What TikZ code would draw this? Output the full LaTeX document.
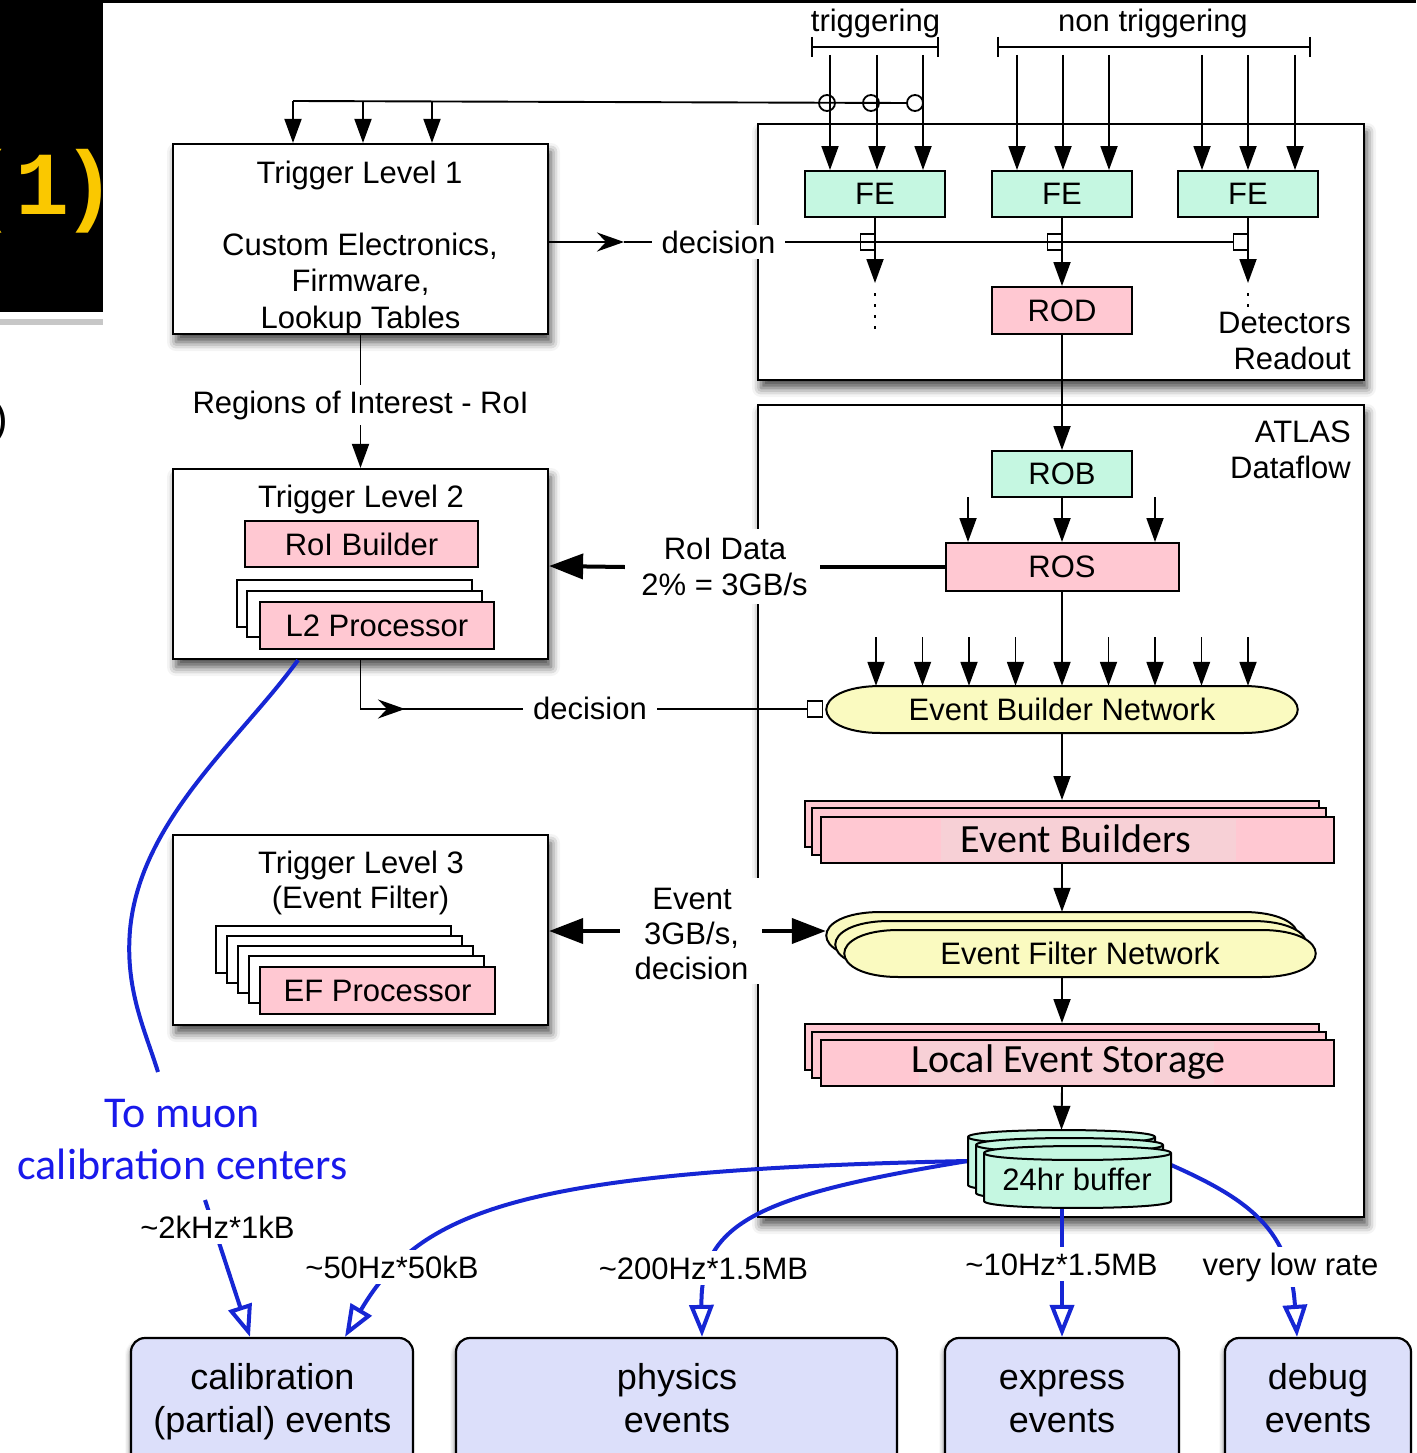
\documentclass[tikz,border=0pt]{standalone}
\usepackage{fontspec}
\setmainfont{Liberation Sans}
\newfontfamily\calfont{Carlito}
\newfontfamily\codefont{Liberation Mono}
\usetikzlibrary{arrows.meta,shapes.geometric,shadows.blur}

\definecolor{mint}{RGB}{197,247,225}
\definecolor{rosy}{RGB}{255,200,210}
\definecolor{rosyhi}{RGB}{247,208,214}
\definecolor{cream}{RGB}{250,250,192}
\definecolor{lav}{RGB}{220,223,250}
\definecolor{flowblue}{RGB}{22,38,212}
\definecolor{noteblue}{RGB}{25,25,235}
\definecolor{gold}{RGB}{250,200,0}

% network capsule: left, top, right, bottom
\newcommand\netcapsule[4]{%
  \filldraw[unit, fill=cream] ({#1+55},#2) -- ({#3-55},#2)
    .. controls ({#3+18},#2) and ({#3+18},#4) .. ({#3-55},#4)
    -- ({#1+55},#4)
    .. controls ({#1-18},#4) and ({#1-18},#2) .. ({#1+55},#2) -- cycle;}
% disk drum: left, top centre, right, bottom centre
\newcommand\diskdrum[4]{%
  \filldraw[unit, fill=mint] (#1,#2) -- (#1,#4)
    .. controls (#1,{#4+9.3}) and (#3,{#4+9.3}) .. (#3,#4) -- (#3,#2)
    .. controls (#3,{#2-9.3}) and (#1,{#2-9.3}) .. (#1,#2) -- cycle;
  \draw[unit] (#1,#2) .. controls (#1,{#2+9.3}) and (#3,{#2+9.3}) .. (#3,#2);}

\begin{document}
\begin{tikzpicture}[x=1pt, y=-1pt,
  txt/.style={font=\fontsize{31}{36}\selectfont, inner sep=0pt},
  boxtxt/.style={font=\fontsize{36}{42}\selectfont, inner sep=0pt},
  bigtxt/.style={font=\calfont\fontsize{40}{46}\selectfont, inner sep=0pt},
  panel/.style={draw, line width=2.2pt, fill=white, inner sep=0pt,
    blur shadow={shadow xshift=3pt, shadow yshift=-8pt, shadow blur radius=9pt, shadow opacity=72}},
  unit/.style={draw, line width=2pt, inner sep=0pt},
  mintbox/.style={unit, fill=mint, font=\fontsize{31}{36}\selectfont},
  rosybox/.style={unit, fill=rosy, font=\fontsize{31}{36}\selectfont},
  plainbox/.style={unit, fill=white},
  wire/.style={line width=1.9pt},
  link/.style={wire, -{Triangle[length=24pt,width=17pt]}},
  barb/.style={wire, -{Stealth[length=27pt,width=19pt,inset=9pt]}},
  fat/.style={line width=4pt, -{Triangle[length=34pt,width=25pt]}},
  flow/.style={draw=flowblue, line width=4pt, -{Triangle[open,length=32pt,width=24pt]}},
  tap/.style={draw, line width=1.8pt, inner sep=0pt, minimum width=15pt, minimum height=16pt},
  ring/.style={draw, ellipse, line width=1.8pt, inner sep=0pt, minimum width=16pt, minimum height=16pt},
  wlabel/.style={txt, fill=white, inner xsep=10pt, inner ysep=6pt},
  sinkbox/.style={draw, line width=2.2pt, fill=lav, rounded corners=14pt, inner sep=0pt,
    blur shadow={shadow xshift=-2pt, shadow yshift=-3pt, shadow blur radius=4pt, shadow opacity=40}},
  dotline/.style={line width=1.8pt, dash pattern=on 3pt off 8pt}
]
\useasboundingbox (0,0) rectangle (1416,1453);

% slide remnants: black tab with the slide number, top rule
\fill (0,0) rectangle (103,312);
\begin{scope}
  \clip (0,0) rectangle (103,312);
  \node[font=\codefont\bfseries\fontsize{90}{94}\selectfont, text=gold, anchor=base west, inner sep=0pt] (slidenum) at (-39,214) {(1\kern-7pt)};
\end{scope}
\fill[black!22] (0,319) rectangle (103,325);
\draw[line width=3pt] (103,1.5) -- (1416,1.5);
\node[font=\fontsize{44}{48}\selectfont, anchor=base east, inner sep=0pt] (paren) at (8,433) {)};

% main panels
\node[panel, minimum width=375pt, minimum height=190pt] (tl1) at (360.5,239) {};
\node[panel, minimum width=375pt, minimum height=190pt] (tl2) at (360.5,564) {};
\node[panel, minimum width=375pt, minimum height=190pt] (tl3) at (360.5,930) {};
\node[panel, minimum width=606pt, minimum height=256pt] (detbox) at (1061,252) {};
\node[panel, minimum width=606pt, minimum height=812pt] (atlasbox) at (1061,811) {};

% level 1 text
\node[txt, anchor=base] (tl1a) at (359.5,183) {Trigger Level 1};
\node[txt, anchor=base] (tl1b) at (360,255) {Custom Electronics,};
\node[txt, anchor=base] (tl1c) at (360.5,291) {Firmware,};
\node[txt, anchor=base] (tl1d) at (360.5,328) {Lookup Tables};

% level 2
\node[txt, anchor=base] (tl2a) at (361,507) {Trigger Level 2};
\node[rosybox, minimum width=233pt, minimum height=46pt] (rb) at (361.5,544) {RoI Builder};
\node[plainbox, minimum width=235pt, minimum height=47pt] (l2a) at (354.5,603.5) {};
\node[plainbox, minimum width=235pt, minimum height=46pt] (l2b) at (364.5,614) {};
\node[rosybox, minimum width=234pt, minimum height=47pt] (l2c) at (377,625.5) {L2 Processor};

% level 3
\node[txt, anchor=base] (tl3a) at (361,873) {Trigger Level 3};
\node[txt, anchor=base] (tl3b) at (360.5,908) {(Event Filter)};
\node[plainbox, minimum width=235pt, minimum height=47pt] (efa) at (333.5,949.5) {};
\node[plainbox, minimum width=235pt, minimum height=47pt] (efb) at (344.5,959.5) {};
\node[plainbox, minimum width=235pt, minimum height=47pt] (efc) at (355.5,969.5) {};
\node[plainbox, minimum width=235pt, minimum height=47pt] (efd) at (366.5,979.5) {};
\node[rosybox, minimum width=235pt, minimum height=47pt] (efe) at (377.5,990.5) {EF Processor};

% detector readout
\node[txt, anchor=base] (trig) at (875.5,32) {triggering};
\node[txt, anchor=base] (nontrig) at (1153,32) {non triggering};
\draw[wire] (812,37) -- (812,57) (812,47) -- (938,47) (938,37) -- (938,57);
\draw[wire] (998,37) -- (998,57) (998,47) -- (1310,47) (1310,37) -- (1310,57);

\node[mintbox, minimum width=140pt, minimum height=46pt] (fe1) at (875,194) {FE};
\node[mintbox, minimum width=140pt, minimum height=46pt] (fe2) at (1062,194) {FE};
\node[mintbox, minimum width=140pt, minimum height=46pt] (fe3) at (1248,194) {FE};
\node[rosybox, minimum width=140pt, minimum height=47pt] (rod) at (1062,310.5) {ROD};
\node[txt, anchor=base east] (det1) at (1351,333) {Detectors};
\node[txt, anchor=base east] (det2) at (1351,369) {Readout};

\foreach \x [count=\i] in {830,877,923} {
  \coordinate (t\i) at (\x,55);
  \draw[link] (t\i) -- (t\i |- fe1.north);}
\foreach \x [count=\i] in {1017,1063,1109} {
  \coordinate (n\i) at (\x,55);
  \draw[link] (n\i) -- (n\i |- fe2.north);}
\foreach \x [count=\i] in {1202,1248,1295} {
  \coordinate (m\i) at (\x,55);
  \draw[link] (m\i) -- (m\i |- fe3.north);}

% level 1 accept fan-out to the triggering detectors
\node[ring] (c1) at (827,103) {};
\node[ring] (c2) at (871,103) {};
\node[ring] (c3) at (915,103) {};
\coordinate (f1) at (293,101);
\coordinate (f2) at (363,101);
\coordinate (f3) at (432,101);
\draw[wire] (f1) -- (c3.west);
\foreach \p in {f1,f2,f3} \draw[link] (\p) -- (\p |- tl1.north);

% level 1 decision to the front ends
\node[tap] (s1) at (868,242) {};
\node[tap] (s2) at (1055,242) {};
\node[tap] (s3) at (1241,242) {};
\coordinate (d1tip) at (624,242);
\draw[barb] (tl1.east |- d1tip) -- (d1tip);
\draw[wire] (d1tip) -- (s3.west);
\node[wlabel, anchor=base] (dec1) at (718.5,253) {decision};

\coordinate (fe1end) at (875,283);
\coordinate (fe3end) at (1248,283);
\draw[link] (fe1.south) -- (fe1end);
\draw[link] (fe2.south) -- (rod.north);
\draw[link] (fe3.south) -- (fe3end);
\draw[dotline] (875,293) -- (875,331);
\draw[dotline] (1248,293) -- (1248,307);

% regions of interest
\draw[link] (tl1.south) -- (tl2.north);
\node[wlabel, anchor=base] (roi) at (360.5,413) {Regions of Interest - RoI};

% dataflow
\node[txt, anchor=base east] (atl1) at (1351,442) {ATLAS};
\node[txt, anchor=base east] (atl2) at (1351,478) {Dataflow};
\node[mintbox, minimum width=140pt, minimum height=46pt] (rob) at (1062,474) {ROB};
\node[rosybox, minimum width=233pt, minimum height=48pt] (ros) at (1062,567) {ROS};
\draw[link] (rod.south) -- (rob.north);
\draw[link] (rob.south) -- (ros.north);
\coordinate (r1) at (968,497);
\coordinate (r2) at (1155,497);
\draw[link] (r1) -- (r1 |- ros.north);
\draw[link] (r2) -- (r2 |- ros.north);

\netcapsule{826}{686}{1298}{733}
\node[txt, minimum width=472pt, minimum height=47pt] (ebn) at (1062,709.5) {Event Builder Network};
\draw[link] (ros.south) -- (ebn.north);
\foreach \x [count=\i] in {876,922.5,969,1015.5,1108.5,1155,1201.5,1248} {
  \coordinate (e\i) at (\x,637);
  \draw[link] (e\i) -- (e\i |- ebn.north);}

% RoI data request
\node[fill=white, inner sep=0pt, minimum width=195pt, minimum height=75pt] (roiw) at (722.5,566) {};
\draw[line width=4pt] (ros.west) -- (roiw.east |- ros.west);
\draw[fat] (roiw.west |- ros.west) -- (roiw.west -| tl2.east);
\node[txt, anchor=base] (roid1) at (725,559) {RoI Data};
\node[txt, anchor=base] (roid2) at (724.5,595) {2\% = 3GB/s};

% level 2 decision to the event builder
\node[tap] (s4) at (815,709) {};
\coordinate (d2bend) at (tl2.south |- s4);
\coordinate (d2tip) at (405,709);
\draw[wire] (tl2.south) -- (d2bend) -- (s4.west);
\draw[barb] (d2bend) -- (d2tip);
\node[wlabel, anchor=base] (dec2) at (590,719) {decision};

% event builders
\node[rosybox, minimum width=514pt, minimum height=46pt] (eb1) at (1062,824) {};
\node[rosybox, minimum width=514pt, minimum height=47pt] (eb2) at (1069,831.5) {};
\node[rosybox, minimum width=513pt, minimum height=46pt] (eb3) at (1077.5,840) {};
\fill[rosyhi] (941,819) rectangle (1236,861);
\node[bigtxt, anchor=base] (ebtxt) at (1076,852) {Event Builders};
\draw[link] (ebn.south) -- (eb1.north);

% event filter network
\netcapsule{826}{912}{1298}{959}
\netcapsule{835}{921}{1307}{968}
\netcapsule{844}{930}{1316}{977}
\node[minimum width=472pt, minimum height=47pt, inner sep=0pt] (efn1) at (1062,935.5) {};
\node[txt, minimum width=472pt, minimum height=47pt] (efn3) at (1080,953.5) {Event Filter Network};
\draw[link] (eb1.south |- eb3.south) -- (efn1.north);

% event data to level 3
\node[fill=white, inner sep=0pt, minimum width=142pt, minimum height=106pt] (evw) at (691,931) {};
\draw[fat] (evw.west) -- (evw.west -| tl3.east);
\draw[fat] (evw.east) -- (evw.east -| efn1.west);
\node[txt, anchor=base] (ev1) at (692,909) {Event};
\node[txt, anchor=base] (ev2) at (691.5,944) {3GB/s,};
\node[txt, anchor=base] (ev3) at (691.5,979) {decision};

% local storage
\node[rosybox, minimum width=514pt, minimum height=46pt] (les1) at (1062,1047) {};
\node[rosybox, minimum width=514pt, minimum height=46pt] (les2) at (1069,1055) {};
\node[rosybox, minimum width=513pt, minimum height=46pt] (les3) at (1077.5,1063) {};
\fill[rosyhi] (919,1042) rectangle (1214,1084);
\node[bigtxt, anchor=base] (lestxt) at (1068.5,1072) {Local Event Storage};
\draw[link] (efn1.south |- efn3.south) -- (les1.north);

% output streams
\node[sinkbox, minimum width=282pt, minimum height=152pt] (calib) at (272,1414) {};
\node[sinkbox, minimum width=441pt, minimum height=152pt] (phys) at (676.5,1414) {};
\node[sinkbox, minimum width=234pt, minimum height=152pt] (expr) at (1062,1414) {};
\node[sinkbox, minimum width=186pt, minimum height=152pt] (debug) at (1318,1414) {};
\node[boxtxt, anchor=base] (calib1) at (272.5,1389) {calibration};
\node[boxtxt, anchor=base] (calib2) at (272.5,1432) {(partial) events};
\node[boxtxt, anchor=base] (phys1) at (677,1389) {physics};
\node[boxtxt, anchor=base] (phys2) at (677,1432) {events};
\node[boxtxt, anchor=base] (expr1) at (1062,1389) {express};
\node[boxtxt, anchor=base] (expr2) at (1062,1432) {events};
\node[boxtxt, anchor=base] (debug1) at (1318,1389) {debug};
\node[boxtxt, anchor=base] (debug2) at (1318,1432) {events};

% 24 hour buffer
\node[minimum width=187pt, minimum height=62pt, inner sep=0pt] (buf1) at (1061.5,1161) {};
\node[txt, minimum width=187pt, minimum height=48pt] (buffer) at (1077.5,1180) {};

% streams out of the buffer and to the muon calibration centres
\coordinate (mu0) at ([xshift=-62.5pt]tl2.south);
\coordinate (mu1) at (158,1072);
\coordinate (mu2) at (205,1200);
\draw[flowblue, line width=4pt] (mu0) .. controls (240,740) and (140,820) .. (130,930)
  .. controls (125,990) and (145,1030) .. (mu1);
\draw[flow] (mu2) -- ([xshift=-22pt]calib.north);
\draw[flow] (buf1.west) .. controls (520,1170) and (420,1210) .. ([xshift=73pt]calib.north);
\draw[flow] (buf1.west) .. controls (760,1195) and (700,1222) .. ([xshift=25.5pt]phys.north);
\draw[flow] (buffer.south -| expr.north) -- (expr.north);
\draw[flow] ([yshift=15pt]buffer.east) .. controls (1250,1200) and (1290,1230) .. ([xshift=-21pt]debug.north);

\diskdrum{968}{1137}{1155}{1185}
\diskdrum{976}{1145}{1163}{1193}
\diskdrum{984}{1153}{1171}{1201}
\node[txt, anchor=base] (buftxt) at (1077,1190) {24hr buffer};
\draw[link] (les1.south |- les3.south) -- (buf1.north);

% rate labels
\node[font=\calfont\fontsize{44}{50}\selectfont, text=noteblue, anchor=base, inner sep=0pt] (mu3) at (182.5,1127) {To muon};
\node[font=\calfont\fontsize{44}{50}\selectfont, text=noteblue, anchor=base, inner sep=0pt] (mu4) at (182.5,1179) {calibration centers};
\node[wlabel, anchor=base, inner xsep=4pt] (l2k) at (217.5,1238) {\textasciitilde2kHz*1kB};
\node[wlabel, anchor=base, inner xsep=4pt] (l50) at (392,1278) {\textasciitilde50Hz*50kB};
\node[wlabel, anchor=base, inner xsep=4pt] (l200) at (703.5,1279) {\textasciitilde200Hz*1.5MB};
\node[wlabel, anchor=base, inner xsep=4pt] (l10) at (1061.5,1275) {\textasciitilde10Hz*1.5MB};
\node[wlabel, anchor=base, inner xsep=4pt] (lvlr) at (1290.5,1275) {very low rate};
\end{tikzpicture}
\end{document}
